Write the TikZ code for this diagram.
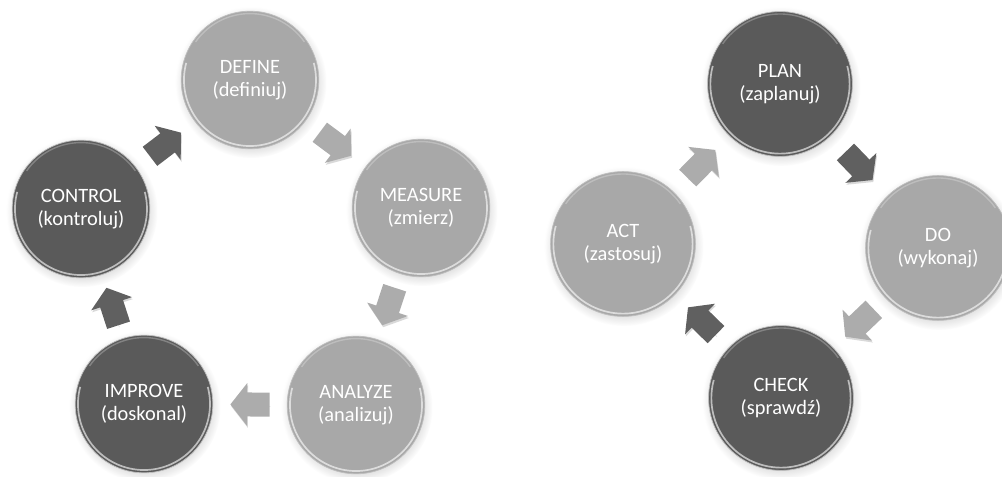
\documentclass[tikz,border=0pt]{standalone}
\usepackage{fontspec}
\setmainfont{Carlito}
\usetikzlibrary{arrows.meta,shadows}
\definecolor{sphereLight}{RGB}{168,168,168}
\definecolor{sphereDark}{RGB}{90,90,90}
\definecolor{arrowLight}{RGB}{172,172,172}
\definecolor{arrowDark}{RGB}{96,96,96}

\begin{document}
\begin{tikzpicture}[x=0.025cm, y=-0.025cm,
    sphere/.style={circle, minimum size=2*#1, inner sep=0pt, align=center, text=white, draw=black!25, line width=0.5pt,
        font=\fontsize{14.5}{16.5}\selectfont,
        circular drop shadow={shadow xshift=0.6pt, shadow yshift=-1.6pt, opacity=0.25},
        path picture={\draw[white, line width=1.2pt, opacity=0.6] (path picture bounding box.center) ++(-195:#1-0.07cm) arc (-195:15:#1-0.07cm);
            \draw[white, line width=1pt, opacity=0.25] (path picture bounding box.center) ++(35:#1-0.06cm) arc (35:145:#1-0.06cm);}},
    flow/.style={line width=0.6cm, -{Triangle[length=0.42cm, width=1.05cm]}, shorten <=#1, shorten >=#1,
        preaction={draw=black!15, transform canvas={xshift=0.6pt, yshift=-1.4pt}}},
    flow/.default=0.45cm]
    \useasboundingbox (0,0) rectangle (1002,477);

    % DMAIC
    \node[sphere=1.72cm, fill=sphereLight] (define) at (250,80) {DEFINE\\(definiuj)};
    \node[sphere=1.72cm, fill=sphereLight] (measure) at (421,208) {MEASURE\\(zmierz)};
    \node[sphere=1.72cm, fill=sphereLight] (analyze) at (356,405) {ANALYZE\\(analizuj)};
    \node[sphere=1.72cm, fill=sphereDark] (improve) at (144,404) {IMPROVE\\(doskonal)};
    \node[sphere=1.72cm, fill=sphereDark] (control) at (81,209) {CONTROL\\(kontroluj)};

    \draw[flow=0.45cm, arrowLight] (define) -- (measure);
    \draw[flow=0.37cm, arrowLight] (measure) -- (analyze);
    \draw[flow=0.43cm, arrowLight] (analyze) -- (improve);
    \draw[flow=0.34cm, arrowDark] (improve) -- (control);
    \draw[flow=0.44cm, arrowDark] (control) -- (define);

    % PDCA
    \node[sphere=1.81cm, fill=sphereDark] (plan) at (780,84) {PLAN\\(zaplanuj)};
    \node[sphere=1.81cm, fill=sphereLight] (do) at (938,248) {DO\\(wykonaj)};
    \node[sphere=1.81cm, fill=sphereDark] (check) at (781,398) {CHECK\\(sprawdź)};
    \node[sphere=1.81cm, fill=sphereLight] (act) at (623,244) {ACT\\(zastosuj)};

    \draw[flow=0.54cm, arrowDark] (plan) -- (do);
    \draw[flow=0.40cm, arrowLight] (do) -- (check);
    \draw[flow=0.45cm, arrowDark] (check) -- (act);
    \draw[flow=0.49cm, arrowLight] (act) -- (plan);
\end{tikzpicture}
\end{document}
